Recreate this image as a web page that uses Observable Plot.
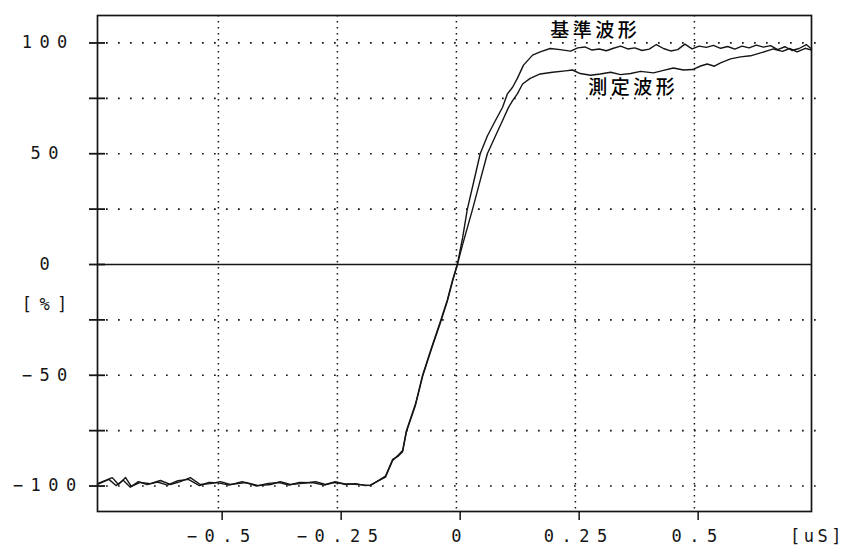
<!DOCTYPE html>
<html>
<head>
<meta charset="utf-8">
<script src="https://cdn.jsdelivr.net/npm/d3@7"></script>
<script src="https://cdn.jsdelivr.net/npm/@observablehq/plot@0.6"></script>
<style>
  html, body { margin: 0; padding: 0; background: #fff; }
  #chart svg { display: block; }
</style>
</head>
<body>
<div id="chart"></div>
<script>
// ---- Data (time in µs, level in %) ----
const refTime = [-0.754,-0.723,-0.71,-0.695,-0.683,-0.664,-0.643,-0.622,-0.601,-0.58,-0.559,-0.538,-0.517,-0.496,-0.475,-0.443,-0.416,-0.39,-0.37,-0.349,-0.328,-0.296,-0.275,-0.254,-0.233,-0.212,-0.191,-0.181,
  -0.149,-0.134,-0.122,-0.113,-0.105,-0.086,-0.071,-0.053,-0.034,-0.019,-0.008,0.002,
  0.013,0.023,0.036,0.05,0.065,0.082,0.097,0.107,0.118,0.128,0.141,0.16,0.176,0.197,
  0.218,0.24,0.255,0.27,0.285,0.3,0.315,0.33,0.345,0.36,0.375,0.39,0.405,0.42,0.435,0.45,0.465,0.48,0.495,0.51,0.525,0.54,0.555,0.57,0.585,0.6,0.615,0.63,0.645,0.66,0.675,0.69,0.705,0.72,0.735,0.746];
const refValue = [-98.9,-96.2,-99.3,-96.2,-100.2,-98.4,-98.9,-97.5,-99.3,-98,-96.2,-99.3,-98.9,-98,-99.3,-98.4,-99.8,-99.3,-98,-99.3,-98.9,-98,-99.3,-98,-99.3,-98.9,-99.8,-99.6,
  -96,-88.5,-86,-84,-75,-63,-50,-38,-26,-16,-7,0,
  12,25,37,50,58,65,71,77,80,84,90,94.5,96,97.5,
  97.0,96.3,97.8,98.2,96.8,97.3,96.5,97.6,98.6,97.3,97.8,96.6,97.2,99.3,97.5,96.4,97.0,99.5,97.3,98.6,98.0,98.9,97.6,98.4,97.2,98.6,97.8,99.0,98.1,98.8,97.0,98.3,96.6,97.5,99.3,97.3];

const measTime = [-0.754,-0.73,-0.715,-0.7,-0.685,-0.668,-0.65,-0.628,-0.607,-0.585,-0.563,-0.54,-0.52,-0.5,-0.478,-0.45,-0.42,-0.395,-0.372,-0.352,-0.33,-0.3,-0.278,-0.257,-0.236,-0.214,-0.195,-0.181,
  -0.149,-0.134,-0.122,-0.113,-0.105,-0.086,-0.071,-0.053,-0.034,-0.019,-0.008,0.002,
  0.013,0.034,0.05,0.065,0.082,0.097,0.109,0.118,0.128,0.139,0.155,0.176,0.202,0.229,0.244,0.26,0.282,0.302,0.324,0.345,0.366,0.387,0.414,0.435,0.456,0.477,0.496,0.513,0.527,0.542,0.555,0.576,0.597,0.618,0.639,0.666,0.685,0.7,0.716,0.733,0.746];
const measValue = [-99.3,-97.0,-99.8,-97.4,-100.5,-98.0,-99.4,-98.2,-99.6,-97.6,-97.0,-99.8,-98.4,-98.6,-99.6,-98.0,-100.0,-98.8,-98.4,-99.6,-98.4,-98.5,-99.6,-98.4,-99.0,-99.2,-99.5,-99.8,
  -95.5,-88,-86.5,-84.5,-75.5,-63.5,-50.5,-38.5,-26.5,-16.5,-7.5,0,
  9,25,38,50,58,65,70.7,74,77,81.5,84,86,86.8,87.4,87.8,86.2,85.4,86.0,86.8,85.7,86.2,87.2,86.5,87.6,88.7,87.8,88.0,89.6,90.5,89.5,91.0,92.8,93.7,94.2,95.5,97.3,96.2,97.5,96.0,97.6,96.8];

const seriesNames = ["基準波形", "測定波形"];
const labelTime = [0.197, 0.277];
const labelValue = [105.6, 79.5];

const yTickLabels = [100, 50, 0, -50, -100];
const yTickMarks = [-100, -75, -50, -25, 0, 25, 50, 75, 100];
const yGridLines = [-100, -75, -50, -25, 25, 50, 75, 100];
const xTicks = [-0.5, -0.25, 0, 0.25, 0.5];
const yUnit = ["[%]"];
const yUnitValue = [-18];
const xUnit = ["[uS]"];
const xUnitTime = [0.755];

// ---- Build table ----
const rows = [
  ...refTime.map((t, i) => ({t, v: refValue[i], s: seriesNames[0]})),
  ...measTime.map((t, i) => ({t, v: measValue[i], s: seriesNames[1]}))
];
const labels = seriesNames.map((name, i) => ({name, t: labelTime[i], v: labelValue[i]}));

const MONO = "DejaVu Sans Mono";
const INK = "#151515";
const FS = 17;
const LS = 7.5;

const chart = Plot.plot({
  width: 848,
  height: 547,
  marginLeft: 97,
  marginRight: 37,
  marginTop: 15,
  marginBottom: 36,
  style: {background: "#fff", color: INK},
  x: {domain: [-0.754, 0.746], label: null},
  y: {domain: [-111.5, 112.4], label: null},
  marks: [
    Plot.ruleX(xTicks, {stroke: INK, strokeWidth: 1.5, strokeDasharray: "1.5 4.5"}),
    Plot.ruleY(yGridLines, {stroke: INK, strokeWidth: 1.7, strokeDasharray: "1.7 10.3", dx: 9}),
    Plot.ruleY([0], {stroke: INK, strokeWidth: 1.7}),
    Plot.frame({stroke: INK, strokeWidth: 1.7}),
    // left tick marks crossing the frame
    Plot.axisY({ticks: yTickMarks, tickSize: 16, dx: 8, tickFormat: () => "", stroke: INK, strokeWidth: 1.8}),
    // left labels
    Plot.axisY({ticks: yTickLabels, tickSize: 0, tickPadding: 53, textAnchor: "middle", dx: LS / 2,
      fontSize: FS, fontFamily: MONO, fill: INK, tickFormat: d => String(d).replace("-", "−")}),
    Plot.text(yUnit, {text: d => d, y: yUnitValue, frameAnchor: "left", dx: -53 + LS / 2, textAnchor: "middle",
      fontSize: FS, fontFamily: MONO, fill: INK}),
    // bottom ticks + labels
    Plot.axisX({ticks: xTicks, tickSize: 9, tickPadding: 9, dx: LS / 2, fontSize: FS, fontFamily: MONO,
      fill: INK, stroke: INK, strokeWidth: 1.5, tickFormat: d => String(d).replace("-", "−")}),
    Plot.text(xUnit, {text: d => d, x: xUnitTime, frameAnchor: "bottom", dy: 25, dx: LS / 2 - 2,
      textAnchor: "middle", lineAnchor: "middle", fontSize: FS, fontFamily: MONO, fill: INK}),
    // waveforms
    Plot.line(rows, {x: "t", y: "v", z: "s", stroke: INK, strokeWidth: 1.4, curve: "linear"}),
    // annotations
    Plot.text(labels, {x: "t", y: "v", text: "name", textAnchor: "start", lineAnchor: "middle",
      fontSize: 19, fontWeight: 500, fontFamily: "Noto Sans CJK JP", fill: "#000"})
  ]
});

d3.select(chart).selectAll("text").each(function() {
  const t = this.textContent || "";
  if (/[\u3000-\u9fff]/.test(t)) {
    this.style.letterSpacing = "3.5px";
  } else if (t === "[uS]") {
    this.style.letterSpacing = "3.5px";
  } else {
    this.style.letterSpacing = LS + "px";
  }
});

document.getElementById("chart").appendChild(chart);
</script>
</body>
</html>
